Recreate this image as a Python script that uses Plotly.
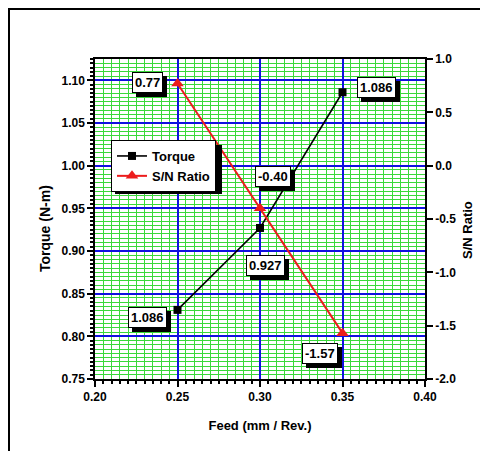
import plotly.graph_objects as go

feed = [0.25, 0.30, 0.35]
torque = [0.831, 0.927, 1.086]
sn_ratio = [0.77, -0.40, -1.57]
torque_labels = ["1.086", "0.927", "1.086"]
sn_labels = ["0.77", "-0.40", "-1.57"]

FONT = "Liberation Sans, Arial, sans-serif"
OFF = 8  # page body margin
W, H = 480, 443
L, R, T, B = 87, 63, 51, 72
pw, ph = W - L - R, H - T - B

fig = go.Figure()
fig.add_trace(go.Scatter(x=feed, y=torque, name="<b>Torque</b>", mode="lines+markers",
                         line=dict(color="black", width=1.6),
                         marker=dict(symbol="square", size=8, color="black")))
fig.add_trace(go.Scatter(x=feed, y=sn_ratio, name="<b>S/N Ratio</b>", mode="lines+markers", yaxis="y2",
                         line=dict(color="#ec1c1c", width=2),
                         marker=dict(symbol="triangle-up", size=11, color="#ec1c1c")))

t_off = [(-30, -8), (5, -38), (34, 5)]
s_off = [(-30, 1), (13, 32), (-23, -20)]

def add_label(x, y, text, dx, dy, yref):
    common = dict(x=x, y=y, xref="x", yref=yref, text="<b>%s</b>" % text, showarrow=False,
                  font=dict(family=FONT, size=13, color="black"), borderpad=2, borderwidth=1)
    fig.add_annotation(**common, xshift=dx + 4, yshift=dy - 4, bgcolor="black", bordercolor="black")
    fig.add_annotation(**common, xshift=dx, yshift=dy, bgcolor="white", bordercolor="black")

for i in range(3):
    add_label(feed[i], torque[i], torque_labels[i], t_off[i][0], t_off[i][1], "y")
    add_label(feed[i], sn_ratio[i], sn_labels[i], s_off[i][0], s_off[i][1], "y2")

def px(xp):
    return (xp - OFF - L) / pw

def py(yp):
    return 1 - (yp - OFF - T) / ph

fig.add_annotation(x=px(45), y=py(229), xref="paper", yref="paper", text="<b>Torque (N-m)</b>",
                   xanchor="center", yanchor="middle",
                   textangle=-90, showarrow=False, font=dict(family=FONT, size=14, color="black"))
fig.add_annotation(x=px(467), y=py(230), xref="paper", yref="paper", text="<b>S/N Ratio</b>",
                   xanchor="center", yanchor="middle",
                   textangle=-90, showarrow=False, font=dict(family=FONT, size=13, color="black"))

fig.add_shape(type="rect", xref="paper", yref="paper", x0=px(9), x1=px(500), y0=py(470), y1=py(9),
              line=dict(color="black", width=2), fillcolor="rgba(0,0,0,0)", layer="below")
fig.add_shape(type="rect", xref="paper", yref="paper", x0=px(115), x1=px(222), y0=py(194), y1=py(145),
              line=dict(width=0), fillcolor="black", layer="above")

y_minor_vals = [round(0.75 + 0.005 * k, 3) for k in range(76)]
y2_minor_vals = [round(-2.0 + 0.1 * k, 1) for k in range(31)]

axis_font = dict(family=FONT, size=12, color="black")
GREEN = "#3ad83a"
BLUE = "#1010e0"
fig.update_layout(
    width=W, height=H, margin=dict(l=L, r=R, t=T, b=B),
    paper_bgcolor="white", plot_bgcolor="white",
    font=dict(family=FONT, size=12, color="black"),
    showlegend=True,
    legend=dict(x=px(111), y=py(140), xanchor="left", yanchor="top",
                bgcolor="white", bordercolor="black", borderwidth=1,
                font=dict(family=FONT, size=13, color="black"),
                itemwidth=30, tracegroupgap=0),
    xaxis=dict(range=[0.20, 0.40], tickvals=[0.20, 0.25, 0.30, 0.35, 0.40],
               ticktext=["<b>0.20</b>", "<b>0.25</b>", "<b>0.30</b>", "<b>0.35</b>", "<b>0.40</b>"],
               ticks="outside", ticklen=6, tickwidth=1.5, tickcolor="black",
               showline=True, linecolor="black", linewidth=1.5, mirror=True,
               showgrid=True, gridcolor=BLUE, gridwidth=2,
               minor=dict(dtick=0.005, ticks="outside", ticklen=3, tickcolor="black",
                          showgrid=True, gridcolor=GREEN, gridwidth=1),
               zeroline=False, tickfont=axis_font,
               title=dict(text="<b>Feed (mm / Rev.)</b>", font=dict(family=FONT, size=13), standoff=18)),
    yaxis=dict(range=[0.75, 1.125], tickvals=[0.75, 0.80, 0.85, 0.90, 0.95, 1.00, 1.05, 1.10],
               ticktext=["<b>%.2f</b>" % v for v in [0.75, 0.80, 0.85, 0.90, 0.95, 1.00, 1.05, 1.10]],
               ticks="outside", ticklen=6, tickwidth=1.5, tickcolor="black",
               showline=True, linecolor="black", linewidth=1.5, mirror=True,
               showgrid=True, gridcolor=BLUE, gridwidth=2,
               minor=dict(tickmode="array", tickvals=y_minor_vals, ticks="outside", ticklen=3,
                          tickcolor="black", showgrid=True, gridcolor=GREEN, gridwidth=1),
               zeroline=False, tickfont=axis_font),
    yaxis2=dict(range=[-2.0, 1.0], overlaying="y", side="right",
                tickvals=[-2.0, -1.5, -1.0, -0.5, 0.0, 0.5, 1.0],
                ticktext=["<b>%.1f</b>" % v for v in [-2.0, -1.5, -1.0, -0.5, 0.0, 0.5, 1.0]],
                ticks="outside", ticklen=6, tickwidth=1.5, tickcolor="black",
                showline=True, linecolor="black", linewidth=1.5,
                showgrid=False, zeroline=False, tickfont=axis_font),
)

fig.write_html("out.html")
